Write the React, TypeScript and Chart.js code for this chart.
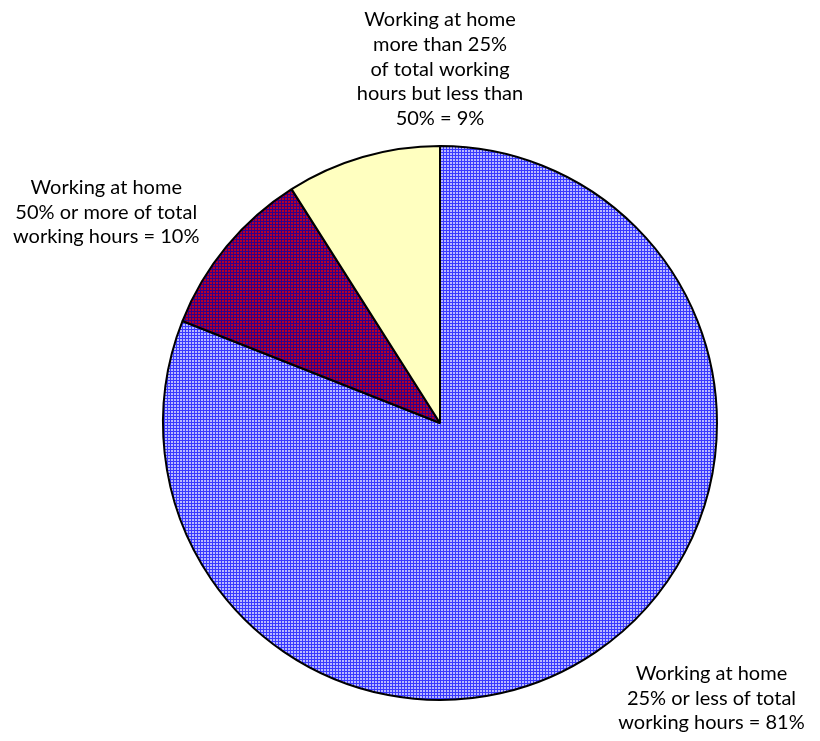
import React, { useEffect, useRef } from "react";
import { Chart, registerables } from "chart.js";

Chart.register(...registerables);

const categories: string[] = [
  "Working at home 25% or less of total working hours",
  "Working at home 50% or more of total working hours",
  "Working at home more than 25% of total working hours but less than 50%",
];
const values: number[] = [81, 10, 9];
const labelLines: string[][] = [
  ["Working at home", "25% or less of total", "working hours = 81%"],
  ["Working at home", "50% or more of total", "working hours = 10%"],
  ["Working at home", "more than 25%", "of total working", "hours but less than", "50% = 9%"],
];

function makePattern(light: string, dark: string): CanvasPattern | string {
  const c = document.createElement("canvas");
  c.width = 3;
  c.height = 3;
  const g = c.getContext("2d");
  if (!g) return dark;
  g.fillStyle = dark;
  g.fillRect(0, 0, 3, 3);
  g.fillStyle = light;
  g.fillRect(0, 0, 2, 2);
  const p = g.createPattern(c, "repeat");
  return p || dark;
}

const FONT = "Lato, 'DejaVu Sans', sans-serif";

export default function App() {
  const ref = useRef<HTMLCanvasElement | null>(null);
  useEffect(() => {
    const canvas = ref.current;
    if (!canvas) return;
    const blue = makePattern("#b8b8ff", "#3838ff");
    const purple = makePattern("#b80028", "#30008c");
    const yellow = "#ffffc0";

    const labelPlugin = {
      id: "sliceLabels",
      afterDraw(chart: any) {
        const meta = chart.getDatasetMeta(0);
        const arc = meta.data[0];
        if (!arc) return;
        const cx = arc.x;
        const cy = arc.y;
        const r = arc.outerRadius;
        const anchors = [
          { x: cx + r * 0.98, y: cy + r * 0.905 },
          { x: cx - r * 1.205, y: cy - r * 0.85 },
          { x: cx, y: cy - r * 1.455 },
        ];
        const ctx = chart.ctx;
        ctx.save();
        ctx.fillStyle = "#000";
        ctx.font = `20px ${FONT}`;
        ctx.textAlign = "center";
        ctx.textBaseline = "middle";
        labelLines.forEach((lines, i) => {
          const a = anchors[i];
          lines.forEach((t, j) => ctx.fillText(t, a.x, a.y + j * 24.6));
        });
        ctx.restore();
      },
    };

    const chart = new Chart(canvas, {
      type: "pie",
      data: {
        labels: categories,
        datasets: [
          {
            data: values,
            backgroundColor: [blue, purple, yellow] as any,
            borderColor: "#000",
            borderWidth: 2,
          },
        ],
      },
      options: {
        animation: false,
        responsive: false,
        devicePixelRatio: 1,
        layout: { padding: { left: 162, right: 102, top: 145, bottom: 40 } },
        plugins: { legend: { display: false }, tooltip: { enabled: false } },
      },
      plugins: [labelPlugin],
    });
    return () => chart.destroy();
  }, []);
  return (
    <div style={{ position: "absolute", left: 0, top: 0, width: 820, height: 741, background: "#fff" }}>
      <canvas ref={ref} width={820} height={741} />
    </div>
  );
}
